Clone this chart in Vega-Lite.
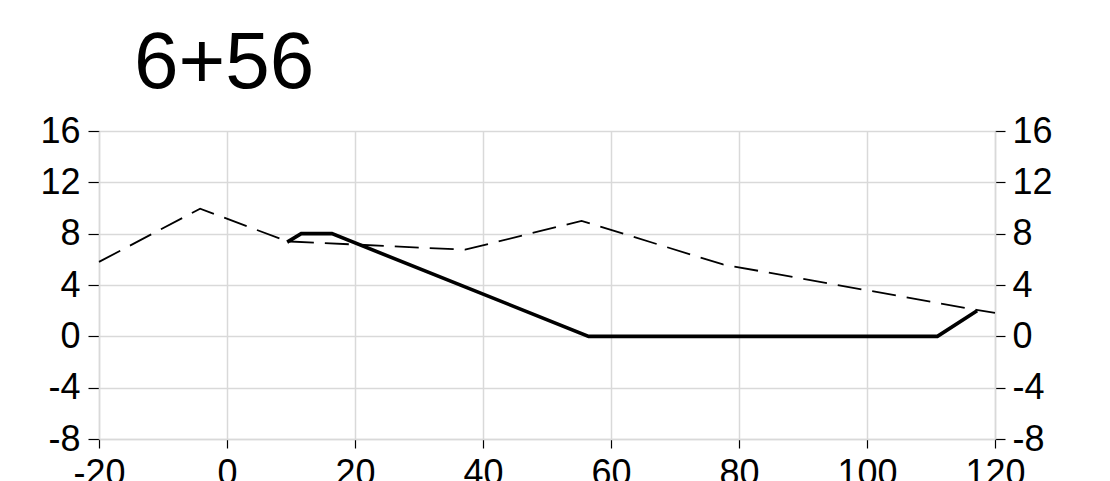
{
  "$schema": "https://vega.github.io/schema/vega-lite/v6.json",
  "autosize": "none",
  "width": 896,
  "height": 308,
  "padding": {"left": 99, "top": 131, "right": 115, "bottom": 42},
  "background": "white",
  "title": {
    "text": "6+56",
    "anchor": "start",
    "frame": "group",
    "fontSize": 80,
    "font": "Liberation Sans",
    "fontWeight": "normal",
    "color": "black",
    "dx": 35,
    "offset": 8
  },
  "config": {
    "view": {"stroke": null},
    "axis": {
      "labelFont": "Liberation Sans",
      "labelFontSize": 36,
      "labelColor": "black",
      "labelExpr": "toString(datum.value)",
      "tickColor": "black",
      "tickWidth": 1.2,
      "tickSize": 9,
      "domainColor": "#d9d9d9",
      "domainWidth": 1.5,
      "gridColor": "#d9d9d9",
      "gridWidth": 1.5,
      "title": null,
      "labelOverlap": false,
      "labelFlush": false,
      "labelBound": false
    }
  },
  "datasets": {
    "ground": [
      {"x": -20, "y": 5.8},
      {"x": -4.2, "y": 9.95},
      {"x": 9.4, "y": 7.4},
      {"x": 37.2, "y": 6.75},
      {"x": 55.4, "y": 9.0},
      {"x": 77.5, "y": 5.6},
      {"x": 117.1, "y": 2.06},
      {"x": 120, "y": 1.83}
    ],
    "design": [
      {"x": 9.4, "y": 7.34},
      {"x": 11.6, "y": 8.0},
      {"x": 16.4, "y": 8.0},
      {"x": 56.5, "y": 0},
      {"x": 111.0, "y": 0},
      {"x": 117.2, "y": 2.0}
    ]
  },
  "layer": [
    {
      "data": {"name": "ground"},
      "mark": {"type": "line", "color": "black", "strokeWidth": 1.8, "strokeDash": [24, 11]},
      "encoding": {
        "x": {"field": "x", "type": "quantitative", "scale": {"domain": [-20, 120], "nice": false, "zero": false},
              "axis": {"values": [-20, 0, 20, 40, 60, 80, 100, 120], "grid": true, "labelPadding": 8}},
        "y": {"field": "y", "type": "quantitative", "scale": {"domain": [-8, 16], "nice": false, "zero": false},
              "axis": {"orient": "left", "values": [-8, -4, 0, 4, 8, 12, 16], "grid": true, "labelPadding": 8, "tickSize": 11}}
      }
    },
    {
      "data": {"name": "design"},
      "mark": {"type": "line", "color": "black", "strokeWidth": 3.6},
      "encoding": {
        "x": {"field": "x", "type": "quantitative"},
        "y": {"field": "y", "type": "quantitative",
              "axis": {"orient": "right", "values": [-8, -4, 0, 4, 8, 12, 16], "grid": false, "labelPadding": 7, "tickSize": 10}}
      }
    }
  ],
  "resolve": {"axis": {"y": "independent"}}
}
